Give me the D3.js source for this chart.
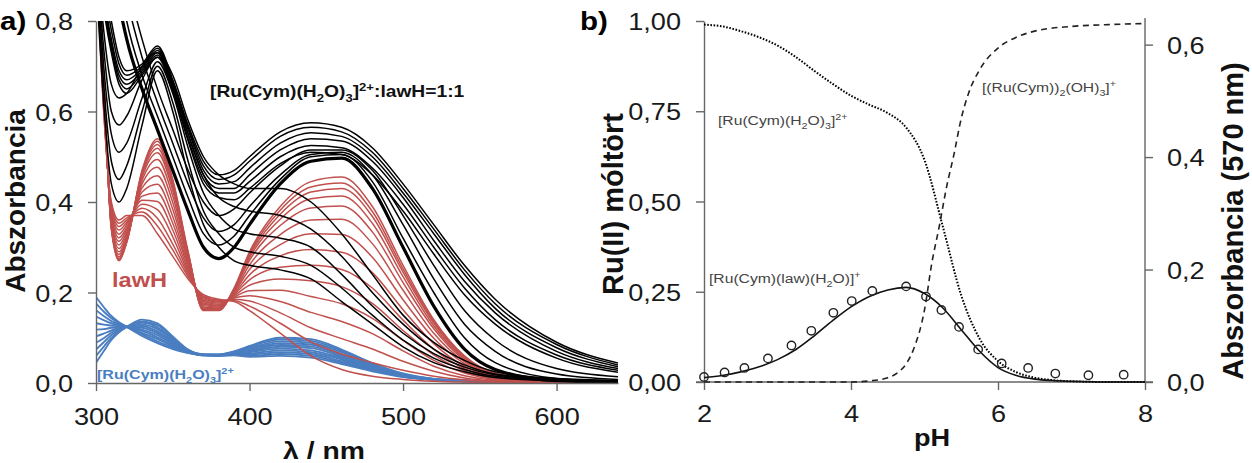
<!DOCTYPE html>
<html><head><meta charset="utf-8">
<script src="https://cdn.jsdelivr.net/npm/d3@7"></script>
<style>
body{margin:0;background:#fff;}
svg{display:block;font-family:"Liberation Sans",Arial,Helvetica,sans-serif;}
</style></head><body>
<svg id="chart" width="1252" height="463"></svg>
<script>
// ---------------- DATA : panel a (UV-Vis spectra) ----------------
const wavelengths = [300,305,310,315,320,330,340,350,360,370,380,390,400,420,440,460,480,500,520,540,560,600,640];

// lawH spectra at increasing pH
const redSpectra = [
 [0.95,0.60,0.40,0.36,0.37,0.37,0.33,0.28,0.23,0.195,0.185,0.18,0.16,0.11,0.06,0.03,0.015,0.008,0.004,0.002,0.001,0,0],
 [0.962,0.606,0.395,0.353,0.365,0.378,0.347,0.294,0.235,0.192,0.183,0.182,0.170,0.132,0.091,0.064,0.045,0.028,0.015,0.007,0.003,0,0],
 [0.974,0.613,0.390,0.346,0.360,0.386,0.364,0.307,0.240,0.189,0.181,0.185,0.181,0.155,0.122,0.098,0.075,0.048,0.026,0.011,0.004,0,0],
 [0.988,0.620,0.385,0.338,0.355,0.395,0.383,0.323,0.245,0.186,0.179,0.188,0.193,0.180,0.156,0.136,0.109,0.071,0.037,0.016,0.006,0.001,0],
 [1.001,0.627,0.380,0.329,0.350,0.404,0.401,0.338,0.250,0.183,0.177,0.190,0.204,0.205,0.191,0.175,0.143,0.094,0.050,0.022,0.008,0.001,0],
 [1.015,0.634,0.374,0.321,0.344,0.413,0.420,0.353,0.256,0.180,0.174,0.193,0.216,0.230,0.226,0.213,0.176,0.116,0.062,0.027,0.010,0.001,0],
 [1.028,0.642,0.369,0.313,0.339,0.422,0.439,0.368,0.261,0.177,0.172,0.196,0.228,0.256,0.260,0.251,0.210,0.139,0.075,0.032,0.012,0.002,0.001],
 [1.042,0.649,0.363,0.305,0.333,0.431,0.458,0.384,0.267,0.174,0.170,0.198,0.239,0.281,0.295,0.289,0.244,0.162,0.087,0.037,0.014,0.002,0.001],
 [1.055,0.656,0.358,0.297,0.328,0.440,0.477,0.399,0.272,0.171,0.168,0.201,0.251,0.306,0.330,0.328,0.278,0.184,0.099,0.043,0.016,0.002,0.001],
 [1.067,0.662,0.353,0.290,0.323,0.448,0.494,0.413,0.277,0.168,0.166,0.203,0.261,0.328,0.360,0.362,0.308,0.205,0.110,0.047,0.017,0.002,0.001],
 [1.078,0.668,0.349,0.284,0.319,0.455,0.509,0.425,0.281,0.165,0.164,0.206,0.271,0.348,0.387,0.391,0.334,0.222,0.120,0.051,0.019,0.003,0.001],
 [1.085,0.672,0.346,0.279,0.316,0.460,0.519,0.433,0.284,0.164,0.163,0.207,0.277,0.362,0.407,0.413,0.353,0.235,0.126,0.054,0.020,0.003,0.001],
 [1.091,0.675,0.344,0.275,0.314,0.464,0.527,0.440,0.286,0.162,0.162,0.208,0.282,0.373,0.422,0.430,0.368,0.245,0.132,0.057,0.021,0.003,0.001],
 [1.096,0.678,0.342,0.273,0.312,0.467,0.534,0.445,0.288,0.161,0.161,0.209,0.286,0.382,0.433,0.442,0.379,0.252,0.136,0.058,0.021,0.003,0.001],
 [1.10,0.68,0.34,0.27,0.31,0.47,0.54,0.45,0.29,0.16,0.16,0.21,0.29,0.39,0.445,0.455,0.39,0.26,0.14,0.06,0.022,0.003,0.001]
];

// [Ru(Cym)(H2O)3]2+ spectra
const blueSpectra = [
 [0.190,0.168,0.148,0.134,0.124,0.104,0.088,0.075,0.066,0.061,0.060,0.061,0.058,0.060,0.056,0.042,0.026,0.013,0.007,0.004,0.003,0.002,0.002],
 [0.176,0.158,0.143,0.132,0.124,0.108,0.092,0.078,0.067,0.061,0.060,0.062,0.060,0.064,0.060,0.045,0.028,0.014,0.007,0.004,0.003,0.002,0.002],
 [0.161,0.148,0.137,0.130,0.124,0.111,0.097,0.081,0.068,0.061,0.061,0.063,0.063,0.068,0.064,0.048,0.030,0.015,0.007,0.004,0.003,0.002,0.002],
 [0.147,0.139,0.132,0.127,0.124,0.115,0.101,0.083,0.068,0.062,0.061,0.064,0.065,0.072,0.068,0.052,0.031,0.015,0.008,0.004,0.003,0.002,0.002],
 [0.132,0.129,0.127,0.125,0.124,0.118,0.106,0.086,0.069,0.062,0.061,0.065,0.068,0.076,0.072,0.055,0.033,0.016,0.008,0.004,0.003,0.002,0.002],
 [0.118,0.119,0.122,0.123,0.124,0.122,0.110,0.089,0.070,0.062,0.062,0.066,0.070,0.080,0.077,0.058,0.035,0.017,0.008,0.005,0.003,0.002,0.002],
 [0.103,0.109,0.116,0.121,0.124,0.126,0.114,0.092,0.071,0.062,0.062,0.066,0.072,0.084,0.081,0.061,0.037,0.018,0.008,0.005,0.003,0.002,0.002],
 [0.089,0.099,0.111,0.119,0.124,0.129,0.119,0.095,0.072,0.062,0.062,0.067,0.075,0.088,0.085,0.064,0.039,0.019,0.008,0.005,0.003,0.002,0.002],
 [0.074,0.090,0.106,0.116,0.124,0.133,0.123,0.097,0.072,0.063,0.062,0.068,0.077,0.092,0.089,0.068,0.040,0.019,0.009,0.005,0.003,0.002,0.002],
 [0.060,0.080,0.100,0.114,0.124,0.136,0.128,0.100,0.073,0.063,0.063,0.069,0.080,0.096,0.093,0.071,0.042,0.020,0.009,0.005,0.003,0.002,0.002],
 [0.045,0.070,0.095,0.112,0.124,0.140,0.132,0.103,0.074,0.063,0.063,0.070,0.082,0.100,0.097,0.074,0.044,0.021,0.009,0.005,0.003,0.002,0.002]
];

// [Ru(Cym)(H2O)3]2+ : lawH = 1:1 spectra
const blackSpectra = [
 [0.90,0.62,0.44,0.40,0.43,0.57,0.69,0.60,0.46,0.35,0.30,0.27,0.26,0.25,0.23,0.18,0.13,0.08,0.045,0.025,0.012,0.005,0.003],
 [0.92,0.66,0.49,0.45,0.48,0.60,0.70,0.62,0.49,0.38,0.33,0.30,0.29,0.28,0.26,0.21,0.15,0.095,0.055,0.03,0.015,0.006,0.004],
 [0.94,0.70,0.55,0.51,0.53,0.63,0.71,0.64,0.52,0.42,0.37,0.34,0.33,0.32,0.30,0.24,0.17,0.11,0.065,0.035,0.018,0.007,0.004],
 [0.96,0.74,0.60,0.57,0.59,0.67,0.72,0.66,0.55,0.46,0.41,0.39,0.38,0.37,0.34,0.28,0.20,0.13,0.075,0.04,0.02,0.008,0.005],
 [0.98,0.78,0.66,0.63,0.64,0.70,0.73,0.68,0.58,0.50,0.46,0.44,0.43,0.43,0.40,0.33,0.24,0.15,0.09,0.05,0.025,0.01,0.006],
 [1.00,0.83,0.73,0.66,0.64,0.68,0.72,0.645,0.535,0.44,0.41,0.405,0.43,0.485,0.51,0.505,0.46,0.38,0.285,0.195,0.13,0.055,0.024],
 [1.01,0.84,0.74,0.67,0.65,0.685,0.725,0.65,0.54,0.45,0.42,0.42,0.445,0.50,0.525,0.52,0.475,0.395,0.30,0.21,0.14,0.062,0.028],
 [1.02,0.85,0.75,0.68,0.66,0.69,0.73,0.655,0.55,0.46,0.43,0.43,0.46,0.515,0.54,0.535,0.49,0.41,0.315,0.225,0.155,0.07,0.032],
 [1.03,0.86,0.76,0.69,0.67,0.695,0.735,0.66,0.56,0.47,0.44,0.445,0.475,0.53,0.553,0.545,0.50,0.42,0.33,0.24,0.165,0.078,0.036],
 [1.04,0.88,0.78,0.705,0.68,0.70,0.74,0.665,0.565,0.48,0.45,0.46,0.49,0.545,0.565,0.555,0.51,0.43,0.34,0.25,0.175,0.085,0.040],
 [1.05,0.90,0.80,0.72,0.69,0.705,0.745,0.67,0.57,0.49,0.46,0.47,0.50,0.555,0.575,0.565,0.52,0.44,0.35,0.26,0.185,0.09,0.044],
 [1.25,1.15,1.06,0.97,0.89,0.76,0.65,0.56,0.47,0.40,0.37,0.385,0.42,0.48,0.515,0.515,0.47,0.37,0.26,0.16,0.095,0.032,0.014],
 [1.27,1.16,1.03,0.93,0.85,0.72,0.62,0.53,0.44,0.365,0.335,0.35,0.39,0.46,0.505,0.51,0.46,0.35,0.23,0.13,0.07,0.02,0.008],
 [1.28,1.15,1.00,0.89,0.80,0.68,0.59,0.50,0.41,0.33,0.305,0.325,0.37,0.45,0.50,0.505,0.445,0.32,0.20,0.10,0.045,0.01,0.004]
];
const blackThickSpectrum = [1.30,1.10,0.95,0.84,0.76,0.65,0.56,0.47,0.38,0.30,0.275,0.30,0.35,0.44,0.49,0.497,0.43,0.30,0.17,0.075,0.03,0.005,0.002];

const aXTicks = [300,400,500,600];
const aXTickLabels = ["300","400","500","600"];
const aYTicks = [0,0.2,0.4,0.6,0.8];
const aYTickLabels = ["0,0","0,2","0,4","0,6","0,8"];

// ---------------- DATA : panel b (speciation) ----------------
const phGrid = [2.0,2.25,2.5,2.75,3.0,3.25,3.5,3.75,4.0,4.25,4.5,4.75,5.0,5.25,5.5,5.75,6.0,6.25,6.5,6.75,7.0,7.5,8.0];
const fracAqua = [0.99,0.985,0.972,0.955,0.932,0.90,0.862,0.826,0.793,0.768,0.745,0.705,0.615,0.43,0.24,0.12,0.058,0.027,0.012,0.005,0.002,0,0];
const fracComplex = [0.012,0.018,0.028,0.042,0.062,0.09,0.128,0.17,0.208,0.237,0.255,0.262,0.245,0.205,0.145,0.085,0.04,0.018,0.008,0.004,0.002,0,0];
const dimerPH = [2.0,3.0,4.0,4.25,4.5,4.65,4.75,4.85,5.0,5.1,5.2,5.3,5.4,5.5,5.6,5.75,6.0,6.25,6.5,7.0,7.5,8.0];
const fracDimer = [0,0,0,0.003,0.012,0.028,0.05,0.09,0.2,0.33,0.43,0.54,0.63,0.73,0.80,0.865,0.925,0.955,0.972,0.985,0.99,0.993];
const absPH = [2.00,2.28,2.55,2.87,3.19,3.46,3.76,4.01,4.29,4.75,5.02,5.23,5.47,5.73,6.05,6.41,6.78,7.23,7.71];
const abs570 = [0.009,0.017,0.025,0.042,0.065,0.091,0.123,0.144,0.162,0.170,0.152,0.128,0.098,0.058,0.033,0.025,0.015,0.012,0.013];

const bXTicks = [2,4,6,8];
const bXTickLabels = ["2","4","6","8"];
const bYTicks = [0,0.25,0.5,0.75,1];
const bYTickLabels = ["0,00","0,25","0,50","0,75","1,00"];
const bY2Ticks = [0,0.2,0.4,0.6];
const bY2TickLabels = ["0,0","0,2","0,4","0,6"];

// ---------------- DRAWING ----------------
const SX = 1.18;           // horizontal stretch of the original lettering
const RED = "#c0504d", BLUE = "#4a7ec0", AXIS = "#666";
const svg = d3.select("#chart");

function addText(parent, x, y, parts, o) {
  const size = o.size, rot = o.rotate;
  const tf = rot ? `translate(${x},${y}) rotate(-90)` : `translate(${x},${y}) scale(${o.sx || SX},1)`;
  const t = parent.append("text").attr("transform", tf)
    .attr("text-anchor", o.anchor || "start")
    .attr("font-size", size).attr("font-weight", o.weight || "normal")
    .attr("fill", o.fill || "#111");
  let shift = 0;
  parts.forEach(p => {
    const kind = p[1] || "n";
    const target = kind === "sub" ? size * 0.28 : kind === "sup" ? -size * 0.38 : 0;
    t.append("tspan").attr("dy", target - shift)
      .attr("font-size", kind === "n" ? size : size * 0.68).text(p[0]);
    shift = target;
  });
  return t;
}

function styleAxis(g, fs) {
  g.select(".domain").attr("stroke", AXIS).attr("stroke-width", 1.4);
  g.selectAll(".tick line").attr("stroke", AXIS).attr("stroke-width", 1.4);
  g.selectAll(".tick text").attr("font-size", fs).attr("fill", "#1a1a1a")
    .attr("font-family", "Liberation Sans, Arial, sans-serif");
}

// ===== Panel a =====
const xA = d3.scaleLinear().domain([300,640]).range([96,618]);
const yA = d3.scaleLinear().domain([0,0.8]).range([383,21]);

svg.append("clipPath").attr("id","clipA").append("rect")
  .attr("x", xA(300)).attr("y", yA(0.8)).attr("width", xA(640)-xA(300)).attr("height", yA(0)-yA(0.8));

const lineA = d3.line().x((d,i) => xA(wavelengths[i])).y(d => yA(d)).curve(d3.curveMonotoneX);
const plotA = svg.append("g").attr("clip-path","url(#clipA)");

plotA.selectAll("path.blue").data(blueSpectra).join("path").attr("class","blue")
  .attr("d", lineA).attr("fill","none").attr("stroke", BLUE).attr("stroke-width", 1.9);
plotA.selectAll("path.red").data(redSpectra).join("path").attr("class","red")
  .attr("d", lineA).attr("fill","none").attr("stroke", RED).attr("stroke-width", 1.5);
plotA.selectAll("path.black").data(blackSpectra).join("path").attr("class","black")
  .attr("d", lineA).attr("fill","none").attr("stroke", "#000").attr("stroke-width", 1.5);
plotA.append("path").datum(blackThickSpectrum).attr("d", lineA)
  .attr("fill","none").attr("stroke","#000").attr("stroke-width", 3.2);

// axes a
const axAY = svg.append("g").attr("transform", `translate(${xA(300)},0)`)
  .call(d3.axisLeft(yA).tickValues(aYTicks).tickFormat((d,i)=>aYTickLabels[i]).tickSize(8).tickSizeOuter(0));
styleAxis(axAY, 23);
axAY.selectAll(".tick text").attr("x", null).attr("dy", null)
  .attr("transform", `translate(-23,8.5) scale(${SX},1)`);

const axAX = svg.append("g").attr("transform", `translate(0,${yA(0)})`)
  .call(d3.axisBottom(xA).tickValues(aXTicks).tickFormat((d,i)=>aXTickLabels[i]).tickSize(8).tickSizeOuter(0));
styleAxis(axAX, 23);
axAX.selectAll(".tick text").attr("y", null).attr("dy", null)
  .attr("transform", `translate(0,42) scale(${SX},1)`);

// labels a
addText(svg, 0, 30, [["a)"]], {size: 25, weight: "bold", fill: "#000"});
addText(svg, 25, 201, [["Abszorbancia"]], {size: 28, weight: "bold", rotate: true, anchor: "middle", fill: "#111"});
addText(svg, 324, 459, [["λ / nm"]], {size: 24, weight: "bold", anchor: "middle", fill: "#111"});
addText(svg, 210, 97, [["[Ru(Cym)(H"],["2","sub"],["O)"],["3","sub"],["]"],["2+","sup"],[":lawH=1:1"]],
  {size: 16.3, weight: "bold", fill: "#111"});
addText(svg, 112, 287, [["lawH"]], {size: 20, weight: "bold", fill: RED});
addText(svg, 97, 379, [["[Ru(Cym)(H"],["2","sub"],["O)"],["3","sub"],["]"],["2+","sup"]],
  {size: 13.6, weight: "bold", fill: BLUE});

// ===== Panel b =====
const xB = d3.scaleLinear().domain([2,8]).range([704,1145]);
const yB = d3.scaleLinear().domain([0,1]).range([382,21]);
const yB2 = d3.scaleLinear().domain([0,0.642]).range([382,21]);

const lineFrac = d3.line().x((d,i) => xB(phGrid[i])).y(d => yB(d)).curve(d3.curveMonotoneX);
const lineDimer = d3.line().x((d,i) => xB(dimerPH[i])).y(d => yB(d)).curve(d3.curveMonotoneX);

// axes b
const axBY = svg.append("g").attr("transform", `translate(${xB(2)},0)`)
  .call(d3.axisLeft(yB).tickValues(bYTicks).tickFormat((d,i)=>bYTickLabels[i]).tickSize(8).tickSizeOuter(0));
styleAxis(axBY, 23);
axBY.selectAll(".tick text").attr("x", null).attr("dy", null)
  .attr("transform", `translate(-23,8.5) scale(${SX},1)`);

const axBY2 = svg.append("g").attr("transform", `translate(${xB(8)},0)`)
  .call(d3.axisRight(yB2).tickValues(bY2Ticks).tickFormat((d,i)=>bY2TickLabels[i]).tickSize(8).tickSizeOuter(0));
styleAxis(axBY2, 23);
axBY2.select(".domain").attr("d", `M0,18V${yB2(0)}`);
axBY2.selectAll(".tick text").attr("x", null).attr("dy", null)
  .attr("transform", `translate(22,8.5) scale(${SX},1)`);

const axBX = svg.append("g").attr("transform", `translate(0,${yB(0)})`)
  .call(d3.axisBottom(xB).tickValues(bXTicks).tickFormat((d,i)=>bXTickLabels[i]).tickSize(8).tickSizeOuter(0));
styleAxis(axBX, 23);
axBX.select(".domain").attr("d", `M${xB(2)-8},0H${xB(8)+8}`);
axBX.selectAll(".tick text").attr("y", null).attr("dy", null)
  .attr("transform", `translate(0,40) scale(${SX},1)`);

// curves b
svg.append("path").datum(fracAqua).attr("d", lineFrac).attr("fill","none")
  .attr("stroke","#000").attr("stroke-width",2).attr("stroke-dasharray","1.6,1.6");
svg.append("path").datum(fracDimer).attr("d", lineDimer).attr("fill","none")
  .attr("stroke","#222").attr("stroke-width",1.6).attr("stroke-dasharray","6,4.5");
svg.append("path").datum(fracComplex).attr("d", lineFrac).attr("fill","none")
  .attr("stroke","#111").attr("stroke-width",1.6);
svg.selectAll("circle.abs").data(abs570).join("circle").attr("class","abs")
  .attr("cx", (d,i) => xB(absPH[i])).attr("cy", d => yB2(d)).attr("r", 4.2)
  .attr("fill","none").attr("stroke","#222").attr("stroke-width",1.4);

// labels b
addText(svg, 580, 30, [["b)"]], {size: 25, weight: "bold", fill: "#000"});
addText(svg, 623, 204, [["Ru(II) móltört"]], {size: 29, weight: "bold", rotate: true, anchor: "middle", fill: "#111"});
addText(svg, 1243, 221, [["Abszorbancia (570 nm)"]], {size: 29, weight: "bold", rotate: true, anchor: "middle", fill: "#111"});
addText(svg, 932, 446, [["pH"]], {size: 23, weight: "bold", anchor: "middle", fill: "#111"});
addText(svg, 718, 125, [["[Ru(Cym)(H"],["2","sub"],["O)"],["3","sub"],["]"],["2+","sup"]], {size: 13.3, fill: "#444"});
addText(svg, 982, 92, [["[(Ru(Cym))"],["2","sub"],["(OH)"],["3","sub"],["]"],["+","sup"]], {size: 13.3, fill: "#444"});
addText(svg, 709, 283, [["[Ru(Cym)(law)(H"],["2","sub"],["O)]"],["+","sup"]], {size: 13.3, fill: "#444"});
</script>
</body></html>
